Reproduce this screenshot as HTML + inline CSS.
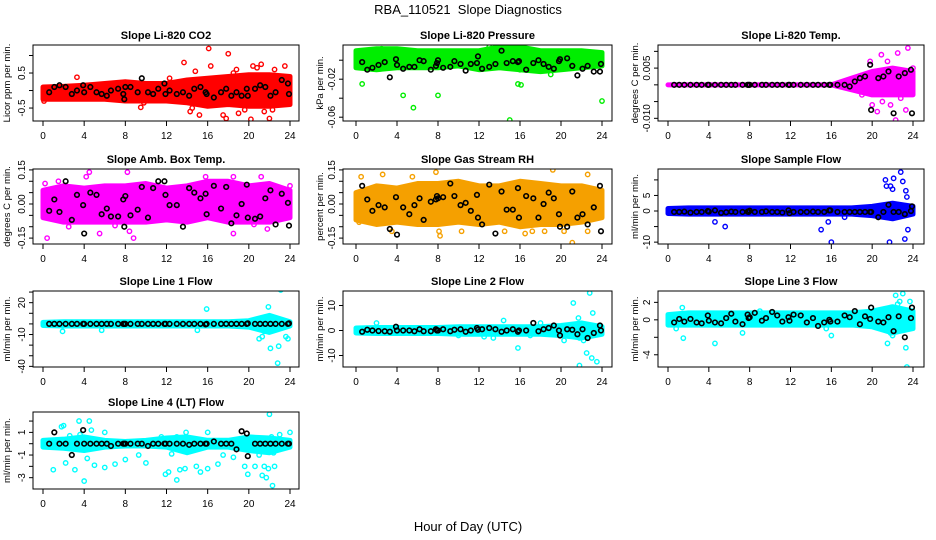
<!DOCTYPE html>
<html><head><meta charset="utf-8">
<style>
html,body{margin:0;padding:0;background:#fff;}
svg{display:block;font-family:"Liberation Sans",Arial,sans-serif;}
</style></head>
<body>
<svg id="chart" width="936" height="540" viewBox="0 0 936 540" xmlns="http://www.w3.org/2000/svg">
<rect width="936" height="540" fill="#fff"/>
<text x="468" y="14" text-anchor="middle" font-size="13">RBA_110521&#160; Slope Diagnostics</text>
<text x="468" y="531" text-anchor="middle" font-size="13">Hour of Day (UTC)</text>
</svg>
<script>
const hourTicks = [0,4,8,12,16,20,24];
const bandHours = [0,2,4,6,8,10,12,14,16,18,20,22,24];
const blackHours = [0.6,1.1,1.6,2.2,2.8,3.3,3.9,4.0,4.6,5.2,5.7,6.2,6.6,7.3,7.8,7.9,8.0,8.5,9.2,9.6,10.2,10.7,11.2,11.8,11.9,12.3,13.0,13.6,14.2,14.7,15.3,15.8,15.9,16.6,17.3,17.8,18.3,18.8,19.3,19.8,19.9,20.6,21.1,21.6,22.1,22.6,23.2,23.8,23.9];

const co2Lo = [-0.25,-0.25,-0.25,-0.25,-0.3,-0.3,-0.3,-0.35,-0.45,-0.4,-0.45,-0.45,-0.4];
const co2Hi = [0.1,0.12,0.15,0.2,0.25,0.2,0.2,0.3,0.35,0.4,0.45,0.45,0.4];
const co2Out = [[3.3,0.38],[9.5,-0.48],[9.8,-0.35],[13.7,0.8],[14.8,0.55],[15.2,-0.7],[16.1,1.2],[16.3,0.7],[17.5,-0.7],[17.8,-0.8],[18,1.05],[18.5,0.5],[19,-0.65],[19.6,-0.55],[20.2,-0.82],[20.4,0.7],[20.8,0.65],[21.2,0.75],[21.5,-0.6],[22,-0.8],[22.5,0.6],[23.5,0.7],[14.3,-0.6],[14.5,-0.5],[12.3,0.35],[18.8,0.6],[22.3,-0.55],[0.1,-0.3],[1,-0.2]];
const co2Black = [-0.05,0.1,0.15,0.1,-0.1,0,0.15,-0.05,0.1,-0.05,-0.1,-0.15,0,0.05,-0.1,-0.25,0.1,0.1,-0.05,0.35,-0.05,-0.1,0.05,0.2,-0.1,0,-0.1,-0.05,-0.15,0.05,0.1,-0.05,-0.1,-0.2,-0.05,0.05,-0.15,-0.05,-0.15,0.05,-0.15,0.05,0.15,0.1,-0.15,-0.05,0.3,0.2,-0.1];

const presLo = [-0.008,-0.01,-0.008,-0.008,-0.008,-0.006,-0.01,-0.008,-0.01,-0.012,-0.01,-0.008,-0.006];
const presHi = [0.01,0.012,0.012,0.01,0.01,0.01,0.01,0.014,0.014,0.01,0.01,0.01,0.008];
const presOut = [[0.6,-0.025],[4.6,-0.037],[5.6,-0.05],[8,-0.037],[15,-0.063],[15.8,-0.025],[16.1,-0.026],[24,-0.043],[2.5,0.012],[13,0.014],[14.3,0.015],[15,0.015],[19,-0.015],[16,-0.01]];
const presBlack = [-0.002,-0.01,-0.008,-0.005,-0.002,-0.018,0.001,-0.005,-0.009,-0.007,-0.007,0,-0.001,-0.01,-0.006,-0.003,0,-0.008,-0.007,-0.001,-0.004,-0.011,-0.004,-0.003,0.004,-0.009,-0.007,-0.004,0.01,-0.003,-0.001,-0.002,-0.001,-0.01,-0.003,0,-0.004,-0.007,-0.009,-0.001,0.001,0.002,-0.006,-0.016,-0.009,-0.006,-0.012,-0.012,-0.004];

const tempLo = [0,0,0,0,0,0,0,0,0,-0.0015,-0.003,-0.003,-0.003];
const tempHi = [0,0,0,0,0,0,0,0,0,0.002,0.004,0.005,0.004];
const tempOut = [[19.8,0.007],[20.9,0.009],[21.5,0.007],[22.5,0.0095],[23.5,0.011],[20,-0.006],[21,-0.005],[22.3,-0.0105],[23.3,-0.0075],[19,-0.003],[20.5,-0.008],[21.8,-0.006],[22.8,-0.004],[24,0.005]];
const tempBlack = [0,0,0,0,0,0,0,0,0,0,0,0,0,0,0,0,0,0,0,0,0,0,0,0,0,0,0,0,0,0,0,0,0,0,0,-0.0005,0.001,0.002,0.0025,0.006,-0.0075,0.002,0.0025,0.004,-0.0085,0.0025,0.0035,0.0045,-0.0085];

const ambLo = [-0.06,-0.08,-0.08,-0.08,-0.08,-0.08,-0.07,-0.08,-0.06,-0.08,-0.08,-0.08,-0.06];
const ambHi = [0.06,0.08,0.07,0.08,0.08,0.09,0.07,0.08,0.1,0.1,0.08,0.09,0.06];
const ambOut = [[0.4,-0.15],[4.5,0.14],[4.2,0.12],[5.5,-0.13],[8.2,0.14],[8.4,-0.12],[8.8,-0.15],[18.5,-0.13],[20.5,-0.09],[21.8,-0.11],[1.5,0.1],[15.8,0.12],[18.5,0.12],[21.2,0.12],[0.2,0.09],[2.5,-0.1],[24,0.08],[7,-0.095]];
const ambBlack = [-0.03,0.02,-0.035,0.1,-0.07,0.04,-0.005,-0.13,0.05,0.04,-0.045,-0.02,-0.055,-0.055,0.02,-0.1,0.035,-0.05,-0.025,0.075,-0.06,0.07,0.1,0.1,0.04,-0.005,-0.005,-0.1,0.07,0.05,0.025,0.045,-0.045,0.08,-0.02,0.075,-0.085,-0.05,0,0.085,-0.06,-0.065,-0.055,0.025,0.06,-0.09,0.045,0.005,-0.095];

const rhLo = [-0.07,-0.09,-0.08,-0.09,-0.09,-0.08,-0.09,-0.08,-0.1,-0.09,-0.09,-0.08,-0.06];
const rhHi = [0.05,0.08,0.07,0.09,0.09,0.1,0.08,0.08,0.1,0.09,0.08,0.08,0.06];
const rhOut = [[0.5,0.12],[2.6,0.13],[5.5,0.12],[7.8,0.14],[8.2,-0.14],[8.1,-0.12],[19.2,0.15],[21.1,-0.17],[22.6,0.13],[22.6,-0.12],[16.5,-0.13],[17.2,-0.12],[18.4,-0.12],[20.3,-0.12],[3.5,-0.12],[10.3,-0.12],[0.3,-0.08],[14.5,-0.12]];
const rhBlack = [0.08,0.02,-0.03,-0.005,-0.015,-0.11,0.03,-0.135,-0.015,-0.045,-0.005,0.025,-0.07,0.01,0.02,0.035,0.025,0.03,0.09,0.035,-0.005,0.005,-0.03,0.04,-0.06,-0.09,0.085,-0.13,0.055,-0.025,-0.025,0.07,-0.06,0.035,0.025,-0.06,0,0.05,0.025,-0.045,-0.1,-0.1,0.055,-0.06,-0.045,-0.09,-0.015,0.08,-0.12];

const flowLo = [-0.8,-1,-1,-1,-1,-1,-1,-1,-1,-1,-1.5,-2.5,-1];
const flowHi = [0.8,1,1,1,1,1,1,1,1,1,1.5,2.5,1.5];
const flowOut = [[4.6,-3.5],[5.6,-5],[15,-6],[15.7,-3.5],[16,-10],[21.4,8],[21.3,10],[21.8,8],[22,7],[22.1,10.5],[22.8,12.5],[23,9.5],[23.3,6.5],[23.4,4.5],[23.5,-6],[23.2,-9],[21.7,-10],[17.3,-2]];
const flowBlack = [-0.3,-0.3,-0.2,-0.5,-0.3,-0.3,0,-0.2,0.2,-0.6,-0.4,-0.2,-0.3,-0.3,-0.2,-0.3,0.1,-0.3,-0.3,-0.1,-0.3,-0.3,-0.5,0.2,-0.7,-0.3,-0.3,-0.3,-0.2,-0.3,-0.3,0.2,0.2,-0.3,-0.3,-0.3,-0.3,-0.3,-0.3,-0.3,-0.3,-2,-0.3,2,-0.3,-0.3,-1,0,1.5];

const l1Lo = [-1.5,-2,-2,-2,-2,-2,-2,-2,-2,-2,-3,-8,-2];
const l1Hi = [1.5,2,2,2,2,2,2,2,2,2,3,8,2];
const l1Out = [[1.9,-7],[5.7,-6],[15.9,14],[15,-6],[21,-14],[21.3,-12],[22.1,-23],[21.9,16],[22.8,-37],[22.9,-21],[23.1,32],[23.6,-12],[23.8,-14],[21.5,-7],[22.5,-5]];
const l1Black = [0,0,0,0,0,0,0,0,0,0,0,0,0,0,0,0,0,0,0,0,0,0,0,0,0,0,0,0,0,0,0,-0.5,0,0,0,0,0,0,0,0,0.5,0,0,0,0,0,0,0,0.5];

const l2Lo = [-1,-1.2,-1.2,-1.2,-1.2,-1.5,-1.5,-1.5,-1.5,-1.5,-2,-3,-1.5];
const l2Hi = [1,1.2,1.2,1.2,1.2,1.5,1.5,1.5,1.5,1.5,2,3,1.5];
const l2Out = [[2,3],[14.4,4],[15.8,-7],[20.3,-4],[21.2,11],[21.7,5],[22.2,-4],[21.8,-14],[22.8,15],[23,-11],[23.1,7],[22.5,-9],[23.5,-12.5],[21.8,-3],[10,-2],[12.5,-2.5],[17,-2],[18,3],[13.4,-3]];
const l2Black = [-0.5,0.3,0,-0.2,-0.3,-0.5,1.5,0,0,0,-0.3,0.5,-0.3,-0.3,0.5,0,0,0.5,-0.3,0.3,0.5,-0.5,0,1,0.3,0.5,1,0.5,-0.5,0,0.5,-0.5,0,0,3,-0.3,0.5,1,2,0,-2,0.5,0.3,-1.5,0.5,-3,-1,2,0];

const l3Lo = [-0.6,-0.6,-0.6,-0.6,-0.6,-0.6,-0.6,-0.6,-0.6,-0.6,-0.8,-1.5,-1];
const l3Hi = [0.6,0.8,0.8,0.8,0.8,0.8,0.8,0.8,0.8,0.8,1,1.5,1];
const l3Out = [[0.8,-1],[1.4,1.4],[1.5,-2.1],[4.6,-2.7],[7.3,-1.5],[9,1],[16,-1.8],[21.5,-2.7],[21.8,-1.5],[22.3,2.8],[22.5,1.8],[22.7,2.1],[23,3],[23.3,-3.2],[23.4,-5.4],[23.7,2.1],[22,-1.8],[15.5,-1]];
const l3Black = [-0.3,0.1,-0.2,0.1,-0.3,-0.4,0.5,-0.1,-0.3,-0.4,0.2,0.7,-0.2,-0.5,0.6,0.2,0.3,0.8,-0.1,0.2,0.9,0.5,-0.2,0.3,-0.1,0.6,0.5,-0.3,0.2,-0.7,-0.3,0,-0.2,-0.2,0.5,0.3,1,-0.5,0.4,0.1,1.4,-0.2,-0.3,0.3,-1.3,0.4,-2,0.2,1.4];

const l4Lo = [-0.3,-0.4,-0.6,-0.3,-0.2,-0.2,-0.3,-0.8,-0.3,-0.3,-0.6,-0.8,-0.3];
const l4Hi = [0.3,0.4,0.6,0.3,0.2,0.3,0.5,0.6,0.3,0.3,0.6,0.5,0.3];
const l4Out = [[1,-2.3],[1.8,1.5],[2,1.6],[2.2,-1.7],[2.6,0.7],[3.1,-2.3],[3.5,2],[3.6,0.8],[4,-3.3],[4.5,2],[4.7,1.2],[4.3,-1.3],[5,-1.9],[6,-2.1],[6,1],[7,-1.8],[8,-1.4],[9.3,-1],[10,-1.7],[11.5,0.6],[11.9,-2.7],[12.2,-2.5],[12.5,-0.9],[13,-3.2],[13.3,-2.3],[13.8,-2.2],[13.9,1],[14.9,-2],[15.3,-2.5],[16,-2.2],[16,1],[17,-1.8],[17.5,-1],[18.5,-1.2],[19.6,-2],[19.9,-2.7],[20.6,-2],[21,-1],[21.3,-2.8],[21.5,-2],[21.7,-3],[21.9,-2.2],[22,2.6],[22.3,-3.7],[22.5,-2],[22.2,0.6],[23,0.8],[24,1],[22.4,-0.8],[13,0.6]];
const l4Black = [0,1,0,0,-1,0,1.2,0,0,0,0,0,-0.2,0,0,0,0,0,0,0,-0.2,0,0,0,0,0,0,0,-0.1,0,0,0,0,0.2,0,0,0,-0.5,1.1,0.9,-1.1,0,0,0,0,0,0,0,0];

const co2Ticks = [-0.5,0,0.5,1];            const co2Labels = ["-0.5","","0.5",""];
const presTicks = [0,-0.02,-0.04,-0.06];    const presLabels = ["","-0.02","","-0.06"];
const tempTicks = [0.01,0.005,0,-0.005,-0.01]; const tempLabels = ["","0.005","","","-0.010"];
const ambTicks = [0.15,0.1,0.05,0,-0.05,-0.1,-0.15]; const ambLabels = ["0.15","","","0.00","","","-0.15"];
const rhTicks = [0.15,0.1,0.05,0,-0.05,-0.1,-0.15]; const rhLabels = ["0.15","","","0.00","","","-0.15"];
const flowTicks = [10,5,0,-5,-10];          const flowLabels = ["","5","0","","-10"];
const l1Ticks = [30,20,10,0,-10,-20,-30,-40]; const l1Labels = ["","20","","","-10","","","-40"];
const l2Ticks = [10,0,-10];                 const l2Labels = ["10","0","-10"];
const l3Ticks = [2,0,-2,-4];                const l3Labels = ["2","0","","-4"];
const l4Ticks = [2,1,0,-1,-2,-3];           const l4Labels = ["","1","","-1","","-3"];

const NS = "http://www.w3.org/2000/svg";
const svg = document.getElementById("chart");
function mk(tag, attrs, parent){ const e=document.createElementNS(NS,tag); for(const k in attrs) e.setAttribute(k,attrs[k]); (parent||svg).appendChild(e); return e; }

const cols = [{l:33,r:299,x0:43,x1:290,yt:8},{l:343,r:612,x0:356,x1:602,yt:321},{l:658,r:924,x0:668,x1:913,yt:636}];
const rows = [{t:45,b:121},{t:169,b:244},{t:291,b:367},{t:412,b:489}];

function panel(name, title, ytitle, ci, ri, yTop, yBot, ticks, labels, color, lo, hi, outs, blacks){
  const c=cols[ci], r=rows[ri];
  const g = mk("g",{});
  
  
  const sx = v => c.x0 + (v/24)*(c.x1-c.x0);
  const sy = v => r.t + (yTop - v)/(yTop - yBot)*(r.b - r.t);
  const clip = mk("clipPath",{id:"clip-"+name},g);
  mk("rect",{x:c.l,y:r.t,width:c.r-c.l,height:r.b-r.t},clip);
  const data = mk("g",{"clip-path":"url(#clip-"+name+")"},g);
  let pts = bandHours.map((h,i)=>sx(h)+","+sy(hi[i]));
  pts = pts.concat(bandHours.slice().reverse().map((h,j)=>{const i=bandHours.length-1-j; return sx(h)+","+sy(lo[i]);}));
  const band = mk("polygon",{points:pts.join(" "),fill:color,stroke:color,"stroke-width":5,"stroke-linejoin":"round"},data);
  
  
  outs.forEach(p=>{
    const ci2 = mk("circle",{cx:sx(p[0]),cy:sy(p[1]),r:2.2,fill:"none",stroke:color,"stroke-width":1.4},data);
    
    
  });
  blacks.forEach((v,i)=>{
    if(i>=blackHours.length) return;
    const b = mk("circle",{cx:sx(blackHours[i]),cy:sy(v),r:2.3,fill:"none",stroke:"#000","stroke-width":1.6},data);
    
    
  });
  mk("rect",{x:c.l,y:r.t,width:c.r-c.l,height:r.b-r.t,fill:"none",stroke:"#000","stroke-width":1},g);
  const tt = mk("text",{x:(c.l+c.r)/2,y:r.t-6,"text-anchor":"middle","font-size":11,"font-weight":"bold"},g);
  tt.textContent = title;
  
  
  hourTicks.forEach(h=>{
    mk("line",{x1:sx(h),x2:sx(h),y1:r.b,y2:r.b+5,stroke:"#000"},g);
    const t = mk("text",{x:sx(h),y:r.b+18,"text-anchor":"middle","font-size":10},g);
    t.textContent = h;
    
    
  });
  ticks.forEach((v,i)=>{
    const y = sy(v);
    mk("line",{x1:c.l-4,x2:c.l,y1:y,y2:y,stroke:"#000"},g);
    if(labels[i]){
      const t = mk("text",{x:c.l-8,y:y,"text-anchor":"middle","font-size":10,transform:"rotate(-90 "+(c.l-8)+" "+y+")"},g);
      t.textContent = labels[i];
      
      
    }
  });
  const yc = (r.t+r.b)/2;
  const yt = mk("text",{x:c.yt+2,y:yc,"text-anchor":"middle","font-size":9.5,transform:"rotate(-90 "+(c.yt+2)+" "+yc+")"},g);
  yt.textContent = ytitle;
  
  
}

panel("panel-co2","Slope Li-820 CO2","Licor ppm per min.",0,0,1.3,-0.87,co2Ticks,co2Labels,"#ff0000",co2Lo,co2Hi,co2Out,co2Black);
panel("panel-pressure","Slope Li-820 Pressure","kPa per min.",1,0,0.016,-0.064,presTicks,presLabels,"#00ee00",presLo,presHi,presOut,presBlack);
panel("panel-temp","Slope Li-820 Temp.","degrees C per min.",2,0,0.0119,-0.0108,tempTicks,tempLabels,"#ff00ff",tempLo,tempHi,tempOut,tempBlack);
panel("panel-amb-box","Slope Amb. Box Temp.","degrees C per min.",0,1,0.154,-0.176,ambTicks,ambLabels,"#ff00ff",ambLo,ambHi,ambOut,ambBlack);
panel("panel-gas-rh","Slope Gas Stream RH","percent per min.",1,1,0.154,-0.176,rhTicks,rhLabels,"#f5a000",rhLo,rhHi,rhOut,rhBlack);
panel("panel-sample-flow","Slope Sample Flow","ml/min per min.",2,1,13.5,-10.6,flowTicks,flowLabels,"#0000ff",flowLo,flowHi,flowOut,flowBlack);
panel("panel-line1","Slope Line 1 Flow","ml/min per min.",0,2,31,-40.6,l1Ticks,l1Labels,"#00ffff",l1Lo,l1Hi,l1Out,l1Black);
panel("panel-line2","Slope Line 2 Flow","ml/min per min.",1,2,15.8,-14.6,l2Ticks,l2Labels,"#00ffff",l2Lo,l2Hi,l2Out,l2Black);
panel("panel-line3","Slope Line 3 Flow","ml/min per min.",2,2,3.3,-5.4,l3Ticks,l3Labels,"#00ffff",l3Lo,l3Hi,l3Out,l3Black);
panel("panel-line4","Slope Line 4 (LT) Flow","ml/min per min.",0,3,2.8,-4,l4Ticks,l4Labels,"#00ffff",l4Lo,l4Hi,l4Out,l4Black);
</script>
</body></html>
